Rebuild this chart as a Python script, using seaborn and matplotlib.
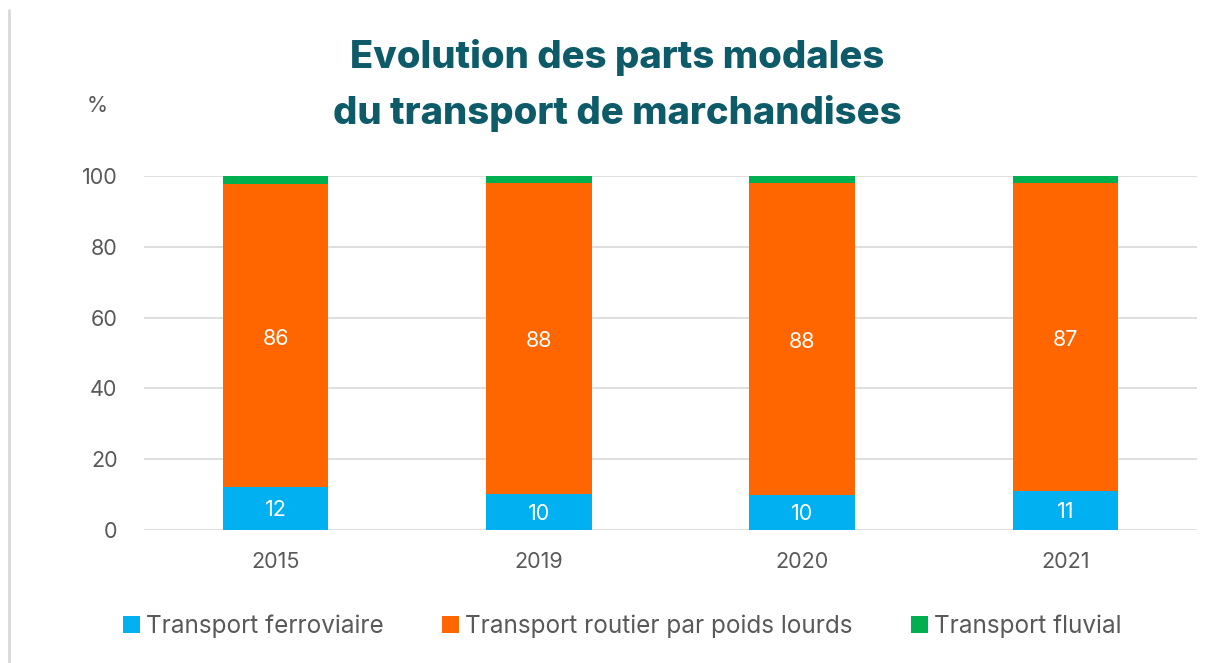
import matplotlib
matplotlib.use("Agg")
import matplotlib.pyplot as plt
import seaborn as sns
import numpy as np
import pandas as pd
from matplotlib.patches import Patch
from matplotlib.lines import Line2D

years = ["2015", "2019", "2020", "2021"]
rail = [12.06, 10.17, 9.89, 10.93]
road = [85.6, 87.8, 88.2, 87.2]
fluvial = [2.34, 2.03, 1.91, 1.87]
rail_labels = ["12", "10", "10", "11"]
road_labels = ["86", "88", "88", "87"]
series_names = ["Transport ferroviaire", "Transport routier par poids lourds", "Transport fluvial"]
colors = ["#00B0F0", "#FF6600", "#00B050"]
yticks = [0, 20, 40, 60, 80, 100]

sns.set_theme(style="white")
plt.rcParams['font.family'] = ['Inter', 'DejaVu Sans']

fig = plt.figure(figsize=(12.12, 6.63), dpi=100)
ax = fig.add_axes([144/1212, 1 - 530/663, (1197-144)/1212, (530-176)/663])

df = pd.DataFrame({"year": years, "rail": rail, "road": road, "fluvial": fluvial})
bottom_road = np.array(rail)
bottom_fl = np.array(rail) + np.array(road)

sns.barplot(data=df, x="year", y="rail", color=colors[0], width=0.4, ax=ax,
            saturation=1, linewidth=0)
sns.barplot(data=df, x="year", y="road", color=colors[1], width=0.4, ax=ax,
            saturation=1, linewidth=0, bottom=bottom_road)
sns.barplot(data=df, x="year", y="fluvial", color=colors[2], width=0.4, ax=ax,
            saturation=1, linewidth=0, bottom=bottom_fl)

for i in range(len(years)):
    ax.text(i, rail[i] / 2 - 0.5, rail_labels[i], ha="center", va="center",
            color="white", fontsize=15.5)
    ax.text(i, rail[i] + road[i] / 2 - 0.8, road_labels[i], ha="center", va="center",
            color="white", fontsize=15.5)

ax.set_xlim(-0.5, 3.5)
ax.set_ylim(0, 100)
ax.set_yticks(yticks)
ax.set_yticklabels([str(t) for t in yticks])
ax.yaxis.grid(True, color="#D9D9D9", linewidth=1.2)
ax.set_axisbelow(True)
for s in ax.spines.values():
    s.set_visible(False)
ax.set_xlabel("")
ax.set_ylabel("")
ax.tick_params(axis="y", length=0, pad=19, labelsize=15.5, labelcolor="#595959")
ax.tick_params(axis="x", length=0, pad=16, labelsize=15.5, labelcolor="#595959")

fig.text(97/1212, 1 - 106/663, "%", ha="center", va="center", fontsize=15.5,
         color="#595959")
fig.text(617/1212, 1 - 58/663, "Evolution des parts modales", ha="center", va="center",
         fontsize=27.5, fontweight="heavy", color="#0D5A68")
fig.text(617/1212, 1 - 113/663, "du transport de marchandises", ha="center", va="center",
         fontsize=27.5, fontweight="heavy", color="#0D5A68")

handles = [Patch(facecolor=c, edgecolor="none") for c in colors]
leg = fig.legend(handles, series_names, loc="center", bbox_to_anchor=(622/1212, 1 - 626/663),
                 ncol=3, frameon=False, fontsize=17.5, labelcolor="#595959",
                 handlelength=0.7, handleheight=0.7, handletextpad=0.25, columnspacing=2.4)

fig.add_artist(Line2D([9/1212, 9/1212], [0, 1 - 10/663], color="#D9D9D9", linewidth=2,
                      transform=fig.transFigure))

fig.savefig("out.png", dpi=100)
